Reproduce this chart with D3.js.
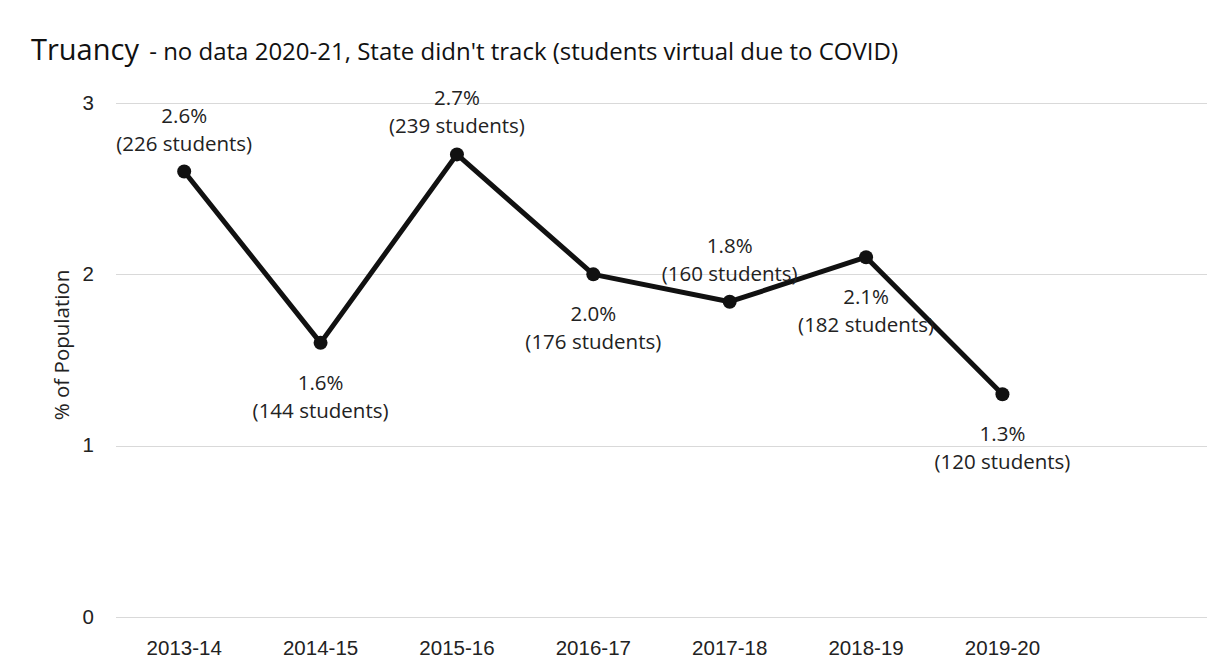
<!DOCTYPE html>
<html>
<head>
<meta charset="utf-8">
<script src="https://cdn.jsdelivr.net/npm/d3@7"></script>
<style>
    body { margin: 0; background: #fff; }
    svg { font-family: 'Open Sans', 'Noto Sans', sans-serif; }
    .grid line { stroke: #d9d9d9; stroke-width: 1; }
    .axis text { fill: #222; font-size: 20.5px; }
    .axis path, .axis line { display: none; }
    .pt-label { fill: #222; font-size: 20.5px; text-anchor: middle; }
</style>
</head>
<body>
<div id="chart"></div>
<script>
// categories (last slot is 2020-21, no data and no label)
const years = ['2013-14', '2014-15', '2015-16', '2016-17', '2017-18', '2018-19', '2019-20', '']
const pct = [2.6, 1.6, 2.7, 2.0, 1.84, 2.1, 1.3]
const pctLabels = ['2.6%', '1.6%', '2.7%', '2.0%', '1.8%', '2.1%', '1.3%']
const students = [226, 144, 239, 176, 160, 182, 120]
const labelAbove = [true, false, true, false, true, false, false]
const yTicks = [0, 1, 2, 3]

const width = 1227, height = 672
const layout = { left: 116, right: 20, top: 103, bottom: 55 }
const innerW = width - layout.left - layout.right
const innerH = height - layout.top - layout.bottom

const svg = d3.select('#chart').append('svg')
    .attr('width', width)
    .attr('height', height)

// title
const title = svg.append('text')
    .attr('x', 31)
    .attr('y', 60)
    .attr('fill', '#111')
title.append('tspan').attr('font-size', '29px').text('Truancy')
title.append('tspan').attr('font-size', '24px').attr('dx', 4).text(' - no data 2020-21, State didn\'t track (students virtual due to COVID)')

const g = svg.append('g')
    .attr('transform', 'translate(' + layout.left + ',' + layout.top + ')')

const xScale = d3.scaleBand().domain(years).range([0, innerW]).padding(0)
const yScale = d3.scaleLinear().domain([0, 3]).range([innerH, 0])
const cx = (i) => xScale(years[i]) + xScale.bandwidth() / 2

g.append('g')
    .attr('class', 'grid')
    .selectAll('line')
    .data(yTicks)
    .enter()
    .append('line')
    .attr('x1', 0)
    .attr('x2', innerW)
    .attr('y1', d => Math.round(yScale(d)) + 0.5)
    .attr('y2', d => Math.round(yScale(d)) + 0.5)

g.append('g')
    .attr('class', 'axis')
    .call(d3.axisLeft(yScale).tickValues(yTicks).tickFormat(d3.format('d')).tickSize(0).tickPadding(22))
    .selectAll('text').attr('dy', '0.3em')

g.append('g')
    .attr('class', 'axis')
    .attr('transform', 'translate(0,' + innerH + ')')
    .call(d3.axisBottom(xScale).tickSize(0).tickPadding(23))

svg.append('text')
    .attr('transform', 'translate(69,' + (layout.top + innerH / 2 - 15) + ') rotate(-90)')
    .attr('text-anchor', 'middle')
    .attr('font-size', '20.5px')
    .attr('fill', '#222')
    .text('% of Population')

const line = d3.line()
    .x((d, i) => cx(i))
    .y(d => yScale(d))

g.append('path')
    .datum(pct)
    .attr('fill', 'none')
    .attr('stroke', '#111')
    .attr('stroke-width', 5)
    .attr('stroke-linejoin', 'round')
    .attr('d', line)

g.selectAll('.dot')
    .data(pct)
    .enter()
    .append('circle')
    .attr('class', 'dot')
    .attr('cx', (d, i) => cx(i))
    .attr('cy', d => yScale(d))
    .attr('r', 7)
    .attr('fill', '#111')

const labels = g.selectAll('.pt-label')
    .data(pct)
    .enter()
    .append('text')
    .attr('class', 'pt-label')
    .attr('transform', (d, i) => 'translate(' + cx(i) + ',' + (yScale(d) + (labelAbove[i] ? -49 : 47)) + ')')
labels.append('tspan').attr('x', 0).attr('y', 0).text((d, i) => pctLabels[i])
labels.append('tspan').attr('x', 0).attr('y', 28).text((d, i) => '(' + students[i] + ' students)')
</script>
</body>
</html>
